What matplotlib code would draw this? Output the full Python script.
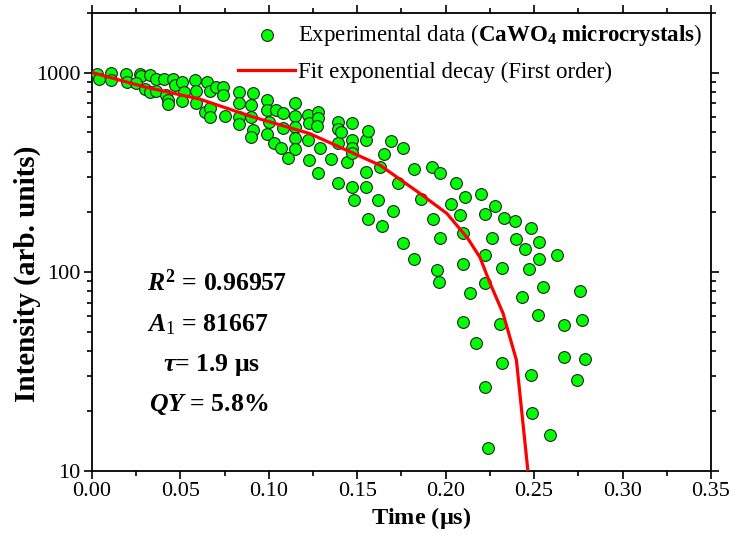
import numpy as np
import matplotlib
matplotlib.use("Agg")
import matplotlib.pyplot as plt
from matplotlib.ticker import MultipleLocator, FixedLocator, NullFormatter

plt.rcParams['font.family'] = ['Liberation Serif', 'DejaVu Serif']
plt.rcParams['mathtext.fontset'] = 'custom'
plt.rcParams['mathtext.rm'] = 'Liberation Serif'
plt.rcParams['mathtext.it'] = 'Liberation Serif:italic:bold'
plt.rcParams['mathtext.bf'] = 'Liberation Serif:bold'

# experimental decay points (time in us, intensity)
t_exp = [0.003, 0.004, 0.011, 0.011, 0.019, 0.020, 0.027, 0.028, 0.025, 0.030,
         0.033, 0.033, 0.036, 0.036, 0.041, 0.042, 0.043, 0.043, 0.046, 0.047,
         0.051, 0.052, 0.051, 0.058, 0.059, 0.059, 0.065, 0.067, 0.070, 0.074,
         0.074, 0.064, 0.067, 0.067, 0.075, 0.083, 0.083, 0.083, 0.083, 0.091,
         0.090, 0.090, 0.091, 0.090, 0.099, 0.099, 0.100, 0.099, 0.104, 0.103,
         0.107, 0.108, 0.108, 0.115, 0.115, 0.115, 0.115, 0.115, 0.111, 0.122,
         0.123, 0.128, 0.128, 0.127, 0.122, 0.129, 0.123, 0.128, 0.139, 0.139,
         0.141, 0.147, 0.139, 0.135, 0.144, 0.147, 0.147, 0.147, 0.139, 0.147,
         0.148, 0.155, 0.155, 0.155, 0.156, 0.162, 0.156, 0.164, 0.165, 0.163,
         0.169, 0.170, 0.173, 0.176, 0.182, 0.192, 0.197, 0.186, 0.206, 0.211,
         0.220, 0.203, 0.193, 0.208, 0.222, 0.176, 0.197, 0.210, 0.182, 0.195,
         0.196, 0.210, 0.222, 0.222, 0.214, 0.210, 0.217, 0.222, 0.224, 0.228,
         0.233, 0.239, 0.248, 0.226, 0.240, 0.245, 0.253, 0.263, 0.253, 0.232,
         0.247, 0.255, 0.243, 0.252, 0.231, 0.232, 0.248, 0.249, 0.259, 0.267,
         0.276, 0.277, 0.267, 0.279, 0.274]
y_exp = [988, 933, 1000, 912, 988, 891, 988, 955, 881, 831,
         966, 794, 933, 812, 933, 767, 724, 691, 933, 861,
         891, 794, 716, 922, 812, 707, 891, 812, 841, 841,
         767, 630, 660, 595, 602, 794, 699, 595, 549, 785,
         683, 595, 512, 472, 724, 645, 562, 489, 645, 441,
         420, 623, 524, 699, 602, 530, 467, 411, 371, 609,
         555, 630, 588, 537, 456, 416, 362, 312, 562, 518,
         500, 555, 441, 367, 354, 461, 420, 393, 278, 265,
         228, 265, 315, 456, 506, 228, 185, 169, 388, 337,
         451, 201, 278, 416, 327, 334, 312, 231, 278, 236,
         247, 220, 185, 192, 196, 139, 147, 156, 116, 102,
         88.6, 110, 121, 87.6, 78, 55.8, 43.8, 26.3, 13.0, 215,
         187, 179, 165, 147, 146, 130, 141, 121, 116, 105,
         103, 84.3, 74.4, 60.5, 54.6, 34.8, 30.3, 19.5, 15.1, 54,
         79.9, 57, 37.3, 36.4, 28.6]

# first order exponential fit curve
t_fit = [0.0, 0.03, 0.061, 0.09, 0.123, 0.163, 0.1855, 0.2007, 0.2125,
         0.2194, 0.225, 0.2324, 0.240, 0.2465]
y_fit = [1000, 846, 735, 602, 494, 342, 247, 196, 147, 118, 88, 62, 36, 10]

fig = plt.figure(figsize=(7.34, 5.35), dpi=100)
ax = fig.add_axes([0.1253, 0.1196, 0.8433, 0.857])

ax.scatter(t_exp, y_exp, s=72, facecolor='#00ff00', edgecolor='#222222',
           linewidth=0.8, zorder=3,
           label=r'Experimental data ($\mathbf{CaWO_4}$ $\mathbf{microcrystals}$)')
ax.plot(t_fit, y_fit, color='#ff0000', lw=2.3, zorder=4,
        label='Fit exponential decay (First order)')

ax.set_yscale('log')
ax.set_xlim(0, 0.35)
ax.set_ylim(10, 2000)
ax.set_xticks(np.arange(0, 0.351, 0.05))
ax.set_xticklabels(['%.2f' % v for v in np.arange(0, 0.351, 0.05)])
ax.xaxis.set_minor_locator(MultipleLocator(0.025))
ax.yaxis.set_major_locator(FixedLocator([10, 100, 1000]))
ax.set_yticklabels(['10', '100', '1000'])
ax.yaxis.set_minor_formatter(NullFormatter())

for s in ax.spines.values():
    s.set_linewidth(1.3)
ax.tick_params(which='both', labelsize=16, width=1.2, pad=2)
ax.tick_params(which='major', length=6)
ax.tick_params(which='minor', length=3.5)
ax.tick_params(axis='x', which='both', direction='out')
ax.tick_params(axis='y', which='both', direction='out')
ax.tick_params(axis='x', which='both', top=True)
ax.tick_params(axis='y', which='both', right=True)

ax.set_xlabel(r'Time ($\mathbf{\mu}$s)', fontsize=17.5, fontweight='bold')
ax.xaxis.set_label_coords(0.532, -0.075)
ax.set_ylabel('Intensity (arb. units)', fontsize=21, fontweight='bold')
ax.yaxis.set_label_coords(-0.083, 0.43)

leg = ax.legend(loc='upper right', frameon=False, fontsize=16.5,
                handlelength=2.5, handletextpad=0.1, labelspacing=0.6,
                borderaxespad=0.2, borderpad=0.2, scatterpoints=1)

ax.text(0.089, 0.41, r'$R^{\mathbf{2}}$ = 0.96957', transform=ax.transAxes,
        fontsize=18.5, fontweight='bold', va='center')
ax.text(0.089, 0.32, r'$A_{1}$ = 81667', transform=ax.transAxes,
        fontsize=18.5, fontweight='bold', va='center')
ax.text(0.115, 0.232, r'$\tau$= 1.9 μs', transform=ax.transAxes,
        fontsize=18.5, fontweight='bold', va='center')
ax.text(0.092, 0.146, r'$QY$ = 5.8%', transform=ax.transAxes,
        fontsize=18.5, fontweight='bold', va='center')

fig.savefig('out.png', dpi=100)
